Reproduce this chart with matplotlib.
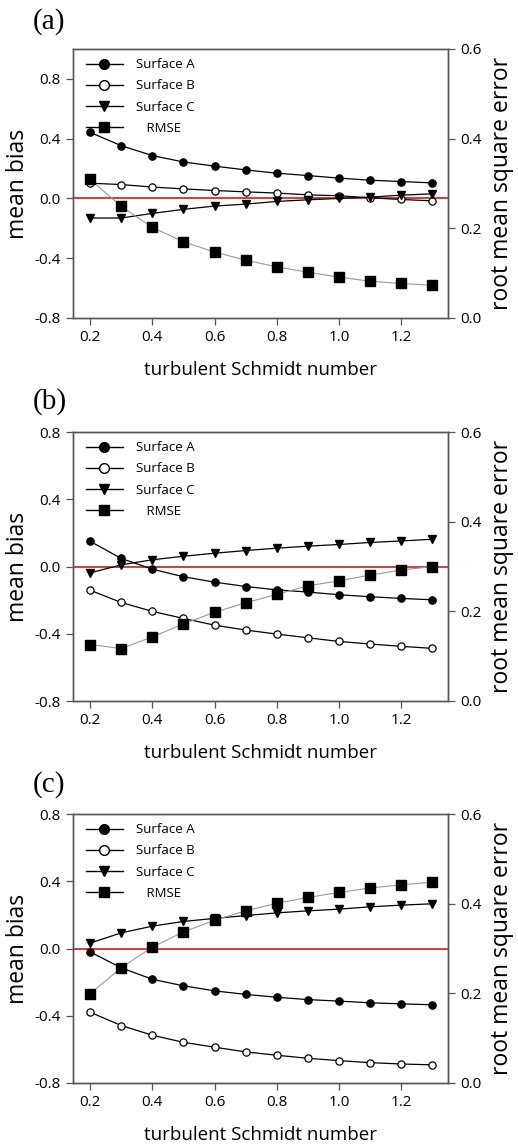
import matplotlib
matplotlib.use("Agg")
import matplotlib.pyplot as plt
from matplotlib.lines import Line2D

plt.rcParams['font.family'] = ['Open Sans', 'DejaVu Sans']

sc = [0.2, 0.3, 0.4, 0.5, 0.6, 0.7, 0.8, 0.9, 1.0, 1.1, 1.2, 1.3]

# Panel (a)
a_surf_a = [0.442, 0.353, 0.287, 0.244, 0.216, 0.191, 0.169, 0.153, 0.136, 0.122, 0.113, 0.104]
a_surf_b = [0.102, 0.093, 0.076, 0.064, 0.053, 0.044, 0.036, 0.024, 0.018, 0.004, -0.007, -0.016]
a_surf_c = [-0.131, -0.131, -0.100, -0.073, -0.051, -0.038, -0.020, -0.009, 0.000, 0.009, 0.022, 0.031]
a_rmse = [0.309, 0.249, 0.202, 0.170, 0.147, 0.129, 0.114, 0.102, 0.091, 0.082, 0.077, 0.073]

# Panel (b)
b_surf_a = [0.150, 0.048, -0.016, -0.061, -0.093, -0.119, -0.139, -0.152, -0.168, -0.180, -0.190, -0.198]
b_surf_b = [-0.141, -0.214, -0.267, -0.309, -0.349, -0.378, -0.402, -0.424, -0.446, -0.461, -0.475, -0.487]
b_surf_c = [-0.038, 0.010, 0.040, 0.061, 0.079, 0.095, 0.109, 0.121, 0.131, 0.143, 0.152, 0.162]
b_rmse = [0.126, 0.117, 0.143, 0.172, 0.198, 0.219, 0.238, 0.257, 0.268, 0.281, 0.292, 0.300]

# Panel (c)
c_surf_a = [-0.020, -0.115, -0.183, -0.222, -0.252, -0.273, -0.290, -0.304, -0.313, -0.323, -0.329, -0.335]
c_surf_b = [-0.379, -0.458, -0.516, -0.558, -0.587, -0.615, -0.635, -0.653, -0.667, -0.679, -0.687, -0.692]
c_surf_c = [0.032, 0.093, 0.133, 0.161, 0.179, 0.196, 0.212, 0.224, 0.234, 0.248, 0.258, 0.266]
c_rmse = [0.199, 0.257, 0.303, 0.337, 0.363, 0.384, 0.401, 0.414, 0.425, 0.435, 0.442, 0.448]

panels = [
    ("(a)", a_surf_a, a_surf_b, a_surf_c, a_rmse, (-0.8, 1.0)),
    ("(b)", b_surf_a, b_surf_b, b_surf_c, b_rmse, (-0.8, 0.8)),
    ("(c)", c_surf_a, c_surf_b, c_surf_c, c_rmse, (-0.8, 0.8)),
]

series_labels = ["Surface A", "Surface B", "Surface C", "   RMSE"]
xticks = [0.2, 0.4, 0.6, 0.8, 1.0, 1.2]
yticks_left = [-0.8, -0.4, 0.0, 0.4, 0.8]
yticks_right = [0.0, 0.2, 0.4, 0.6]

W, H = 518, 1144
fig = plt.figure(figsize=(W / 100, H / 100), dpi=100)

tops = [49, 432, 814]
label_y = [8, 388, 771]
ax_left, ax_right_px, ax_h = 73, 448, 269
spine_col = '#555555'

for (lab, sa, sb, scc, rm, ylim), top, ly in zip(panels, tops, label_y):
    rect = [ax_left / W, 1 - (top + ax_h) / H, (ax_right_px - ax_left) / W, ax_h / H]
    ax = fig.add_axes(rect)
    ax2 = ax.twinx()
    ax.axhline(0, color='#e00000', lw=1.1, zorder=1)
    ax.plot(sc, sa, '-', color='black', lw=0.9, marker='o', ms=5.2,
            mfc='black', mec='black', zorder=3)
    ax.plot(sc, sb, '-', color='black', lw=0.9, marker='o', ms=5.2,
            mfc='white', mec='black', mew=0.9, zorder=3)
    ax.plot(sc, scc, '-', color='black', lw=0.9, marker='v', ms=5.5,
            mfc='black', mec='black', zorder=3)
    ax2.plot(sc, rm, '-', color='#999999', lw=0.8, marker='s', ms=6.5,
             mfc='black', mec='black', zorder=3)

    ax.set_xlim(0.145, 1.35)
    ax.set_ylim(*ylim)
    ax2.set_ylim(0, 0.6)
    ax.set_xticks(xticks)
    ax.set_xticklabels([f"{t:.1f}" for t in xticks])
    ax.set_yticks(yticks_left)
    ax.set_yticklabels([f"{t:.1f}" for t in yticks_left])
    ax2.set_yticks(yticks_right)
    ax2.set_yticklabels([f"{t:.1f}" for t in yticks_right])

    for a in (ax, ax2):
        for s in a.spines.values():
            s.set_color(spine_col)
            s.set_linewidth(1.0)
        a.tick_params(direction='out', length=5, width=0.9, color=spine_col,
                      labelsize=11, pad=4)

    ax.set_ylabel("mean bias", fontsize=16.5, labelpad=3)
    ax2.set_ylabel("root mean square error", fontsize=16.5, labelpad=6)
    ax.set_xlabel("turbulent Schmidt number", fontsize=13.5, labelpad=11)

    handles = [
        Line2D([], [], color='black', lw=1.0, marker='o', ms=7, mfc='black', mec='black'),
        Line2D([], [], color='black', lw=1.0, marker='o', ms=7, mfc='white', mec='black'),
        Line2D([], [], color='black', lw=1.0, marker='v', ms=7, mfc='black', mec='black'),
        Line2D([], [], color='black', lw=1.0, marker='s', ms=7, mfc='black', mec='black'),
    ]
    ax2.legend(handles, series_labels, loc='upper left', frameon=False,
               fontsize=9.5, handlelength=2.8, handletextpad=1.0,
               labelspacing=0.62, borderaxespad=0.3,
               bbox_to_anchor=(0.01, 1.0))

    fig.text(33 / W, 1 - ly / H, lab, fontsize=21, family='Liberation Serif',
             va='top', ha='left')

fig.savefig("out.png", dpi=100)
